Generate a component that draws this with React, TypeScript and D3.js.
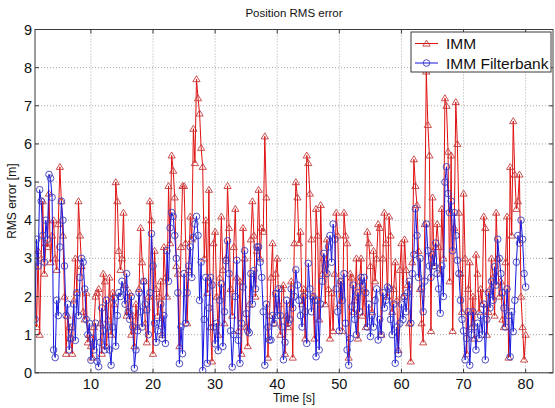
import React from 'react';
import * as d3 from 'd3';

const T0 = 1;
const DT = 0.25;

const immValues: number[] = [
  2.8, 1.2, 3.2, 1.0, 3.0, 4.5, 2.6, 3.4, 3.3, 4.7, 2.9, 3.6, 4.0, 3.0, 2.7, 3.9,
  5.4, 4.5, 3.6, 2.0, 0.5, 1.5, 1.2, 0.9, 0.5, 1.9, 3.0, 2.1, 4.5, 3.6, 2.8, 1.6,
  1.4, 2.1, 0.8, 1.0, 0.7, 0.4, 1.2, 2.0, 2.1, 2.2, 1.3, 0.5, 2.6, 2.4, 0.7, 1.4,
  2.5, 1.0, 2.1, 1.8, 5.0, 4.5, 3.2, 2.7, 3.0, 4.2, 2.3, 1.5, 1.6, 2.1, 1.0, 1.5,
  0.7, 1.8, 1.2, 2.2, 3.8, 2.9, 2.4, 1.3, 0.8, 2.0, 4.5, 4.0, 0.5, 3.2, 2.2, 1.5,
  2.0, 2.4, 1.0, 3.3, 2.5, 2.0, 4.9, 3.4, 5.7, 5.3, 4.6, 2.8, 2.6, 0.7, 3.3, 4.9,
  4.9, 3.4, 1.3, 2.7, 4.1, 3.5, 6.4, 5.5, 7.7, 7.2, 6.8, 5.9, 5.4, 3.0, 4.0, 2.1,
  4.8, 1.2, 0.3, 3.4, 3.7, 2.0, 1.0, 2.5, 4.1, 2.7, 1.3, 3.0, 4.9, 3.8, 2.2, 1.5,
  3.3, 4.3, 2.5, 1.1, 2.4, 0.5, 3.8, 3.0, 1.2, 0.7, 1.8, 3.5, 4.5, 3.6, 2.0, 3.2,
  4.8, 3.0, 3.8, 3.7, 6.2, 4.6, 0.4, 1.5, 2.5, 3.4, 1.3, 2.6, 3.0, 1.8, 1.0, 2.2,
  2.3, 0.5, 1.5, 1.2, 1.8, 2.4, 0.4, 3.4, 5.0, 4.6, 3.4, 3.7, 1.8, 2.2, 0.9, 5.7,
  5.5, 4.7, 3.5, 2.0, 0.9, 4.3, 3.6, 1.4, 4.4, 2.6, 3.0, 1.8, 3.5, 2.2, 0.9, 2.1,
  1.1, 2.6, 4.2, 3.6, 1.8, 2.4, 1.1, 4.2, 3.6, 3.4, 0.4, 2.6, 2.5, 1.6, 1.9, 3.0,
  0.9, 2.4, 3.0, 1.5, 2.2, 1.2, 3.7, 3.4, 2.8, 1.6, 3.2, 2.4, 3.0, 3.9, 3.8, 1.0,
  3.0, 4.2, 3.4, 2.0, 4.1, 3.6, 1.6, 2.2, 2.9, 1.9, 0.6, 2.7, 3.4, 2.0, 3.5, 2.7,
  2.3, 1.3, 0.3, 2.9, 5.6, 4.9, 4.4, 3.2, 2.2, 1.3, 0.8, 3.9, 7.9, 6.5, 5.7, 1.1,
  4.6, 2.8, 3.3, 3.9, 3.3, 2.6, 4.3, 3.0, 7.2, 7.0, 5.8, 2.4, 5.7, 1.1, 3.8, 7.1,
  6.0, 4.2, 2.6, 1.6, 4.7, 3.0, 0.5, 2.2, 2.9, 1.2, 2.0, 0.9, 3.1, 2.6, 1.6, 2.2,
  1.8, 4.1, 3.8, 1.0, 1.6, 2.2, 3.0, 2.5, 1.5, 4.2, 3.0, 2.0, 2.4, 1.4, 1.2, 2.9,
  4.1, 0.4, 5.4, 3.6, 6.6, 5.2, 4.3, 4.5, 5.2, 2.0, 1.2, 0.35, 1.0,
];

const filterbankValues: number[] = [
  1.4, 3.5, 2.8, 4.8, 4.5, 3.6, 2.9, 4.0, 3.5, 5.2, 5.1, 4.6, 0.6, 0.4, 1.9, 1.5,
  3.3, 4.5, 4.0, 2.8, 1.5, 1.8, 0.6, 0.9, 1.2, 1.8, 0.85, 2.1, 1.5, 2.5, 3.0, 2.9,
  2.2, 1.4, 1.0, 1.3, 0.33, 0.9, 0.6, 1.3, 0.3, 0.16, 0.8, 1.7, 1.1, 0.6, 1.9, 1.2,
  0.6, 0.2, 1.2, 1.95, 0.7, 1.5, 2.1, 2.0, 2.4, 2.2, 1.8, 2.6, 1.6, 1.4, 2.0, 1.2,
  0.12, 0.6, 1.1, 2.1, 1.6, 1.2, 2.4, 1.8, 1.65, 1.0, 2.1, 3.65, 2.8, 1.3, 0.8, 1.1,
  1.3, 1.8, 0.9, 1.5, 0.77, 3.2, 2.4, 3.8, 4.2, 4.1, 3.6, 3.0, 2.1, 0.24, 1.2, 0.5,
  2.6, 1.3, 2.1, 2.8, 3.3, 2.5, 3.55, 3.9, 4.1, 3.6, 1.9, 2.9, 0.06, 1.4, 2.5, 0.25,
  1.7, 2.5, 2.3, 1.2, 0.76, 1.3, 0.58, 1.9, 2.33, 0.69, 1.6, 2.94, 3.46, 2.6, 1.1, 0.15,
  1.0, 2.0, 2.95, 0.85, 0.25, 1.3, 2.25, 3.2, 1.55, 1.1, 1.05, 2.6, 1.8, 2.68, 2.2, 3.3,
  3.3, 2.9, 2.5, 1.6, 0.2, 1.8, 1.2, 0.86, 0.86, 1.5, 1.3, 2.08, 1.5, 2.2, 1.5, 1.2,
  0.34, 0.8, 1.9, 1.3, 1.4, 2.2, 1.7, 2.0, 2.7, 2.3, 1.9, 1.5, 1.2, 2.0, 1.6, 0.77,
  2.87, 2.2, 1.6, 2.0, 1.9, 0.42, 1.9, 0.6, 1.8, 2.4, 3.13, 2.8, 2.6, 3.3, 3.6, 2.9,
  3.9, 3.5, 2.2, 1.6, 1.1, 2.4, 1.9, 2.6, 1.3, 0.6, 0.2, 0.9, 1.73, 2.3, 1.4, 1.0,
  2.1, 1.6, 2.5, 2.3, 2.5, 2.1, 1.2, 1.8, 0.95, 1.5, 1.2, 1.9, 2.2, 0.86, 1.4, 1.0,
  2.1, 1.7, 1.9, 2.25, 2.2, 1.4, 1.0, 1.8, 0.25, 1.2, 0.5, 1.3, 1.8, 1.4, 2.0, 1.6,
  2.1, 2.4, 1.3, 2.6, 3.1, 4.3, 3.6, 2.5, 3.0, 2.2, 1.6, 2.4, 3.9, 3.2, 2.8, 2.5,
  3.1, 2.8, 3.4, 2.6, 2.2, 1.56, 2.8, 2.0, 5.0, 5.4, 4.7, 4.2, 4.5, 3.2, 4.2, 3.6,
  2.95, 2.6, 1.9, 1.4, 1.1, 0.34, 0.9, 1.6, 0.2, 1.0, 1.6, 1.2, 0.6, 1.3, 0.9, 1.5,
  1.0, 1.8, 0.34, 1.4, 2.1, 1.7, 2.4, 1.9, 2.78, 2.3, 3.5, 3.0, 2.6, 2.1, 1.7, 1.2,
  2.2, 1.5, 0.42, 1.6, 1.08, 1.9, 2.9, 3.6, 3.4, 4.0, 3.5, 2.6, 2.25,
];

const xTicks = [10, 20, 30, 40, 50, 60, 70, 80];
const yTicks = [0, 1, 2, 3, 4, 5, 6, 7, 8, 9];
const seriesNames = ['IMM', 'IMM Filterbank'];
const titleText = 'Position RMS error';
const xLabel = 'Time [s]';
const yLabel = 'RMS error [m]';

const FONT = "'Liberation Sans', Arial, Helvetica, sans-serif";

export default function App() {
  const W = 555, H = 408;
  const L = 35, R = 553, T = 29.5, B = 372.8;
  const x = d3.scaleLinear().domain([1, 84.4]).range([L, R]);
  const y = d3.scaleLinear().domain([0, 9]).range([B, T]);

  const imm = immValues.map((v, i) => [T0 + i * DT, v] as [number, number]);
  const fb = filterbankValues.map((v, i) => [T0 + i * DT, v] as [number, number]);
  const line = d3.line<[number, number]>().x(d => x(d[0])).y(d => y(d[1]));

  const redLine = '#e01010';
  const redMark = '#c43c3c';
  const blueLine = '#1414e0';
  const blueMark = '#3c3cbc';

  const tri = (cx: number, cy: number) =>
    `M${cx - 3.6},${cy + 2.6}L${cx},${cy - 3.4}L${cx + 3.6},${cy + 2.6}Z`;

  return (
    <svg width={W} height={H} style={{ position: 'absolute', left: 0, top: 0, background: '#fff' }}>
      <rect x={0} y={0} width={W} height={H} fill="#fff" />
      <defs>
        <clipPath id="plotclip">
          <rect x={L} y={T} width={R - L} height={B - T} />
        </clipPath>
      </defs>
      {xTicks.map(t => (
        <line key={'gx' + t} x1={x(t)} x2={x(t)} y1={T} y2={B} stroke="#a8a8a8" strokeWidth={1} strokeDasharray="1,2" />
      ))}
      {yTicks.map(t => (
        <line key={'gy' + t} x1={L} x2={R} y1={y(t)} y2={y(t)} stroke="#a8a8a8" strokeWidth={1} strokeDasharray="1,2" />
      ))}
      <g clipPath="url(#plotclip)">
        <path d={line(imm) || ''} fill="none" stroke={redLine} strokeWidth={1} />
        {imm.map((d, i) => (
          <path key={'r' + i} d={tri(x(d[0]), y(d[1]))} fill="none" stroke={redMark} strokeWidth={0.9} />
        ))}
        <path d={line(fb) || ''} fill="none" stroke={blueLine} strokeWidth={1} />
        {fb.map((d, i) => (
          <circle key={'b' + i} cx={x(d[0])} cy={y(d[1])} r={3.3} fill="none" stroke={blueMark} strokeWidth={0.9} />
        ))}
      </g>
      <rect x={L} y={T} width={R - L} height={B - T} fill="none" stroke="#3a3a3a" strokeWidth={1} />
      {xTicks.map(t => (
        <g key={'tx' + t}>
          <line x1={x(t)} x2={x(t)} y1={B} y2={B - 4} stroke="#3a3a3a" />
          <line x1={x(t)} x2={x(t)} y1={T} y2={T + 4} stroke="#3a3a3a" />
          <text x={x(t)} y={B + 16} textAnchor="middle" fontFamily={FONT} fontSize={14.5} fill="#111">{t}</text>
        </g>
      ))}
      {yTicks.map(t => (
        <g key={'ty' + t}>
          <line x1={L} x2={L + 4} y1={y(t)} y2={y(t)} stroke="#3a3a3a" />
          <line x1={R} x2={R - 4} y1={y(t)} y2={y(t)} stroke="#3a3a3a" />
          <text x={L - 3} y={y(t) + 5} textAnchor="end" fontFamily={FONT} fontSize={14.5} fill="#111">{t}</text>
        </g>
      ))}
      <text x={294} y={17} textAnchor="middle" fontFamily={FONT} fontSize={11.5} fill="#111">{titleText}</text>
      <text x={294} y={402} textAnchor="middle" fontFamily={FONT} fontSize={12} fill="#111">{xLabel}</text>
      <text transform={`translate(16,${(T + B) / 2}) rotate(-90)`} textAnchor="middle" fontFamily={FONT} fontSize={12} fill="#111">{yLabel}</text>
      <g>
        <rect x={411} y={32} width={140} height={40} fill="#fff" stroke="#3a3a3a" strokeWidth={1} />
        <line x1={415} x2={438} y1={43.5} y2={43.5} stroke={redLine} strokeWidth={1} />
        <path d={tri(426.5, 43.5)} fill="none" stroke={redMark} strokeWidth={0.9} />
        <text x={446} y={49} fontFamily={FONT} fontSize={15.5} fill="#111">{seriesNames[0]}</text>
        <line x1={415} x2={438} y1={63} y2={63} stroke={blueLine} strokeWidth={1} />
        <circle cx={426.5} cy={63} r={3.3} fill="none" stroke={blueMark} strokeWidth={0.9} />
        <text x={446} y={68.5} fontFamily={FONT} fontSize={15.5} fill="#111">{seriesNames[1]}</text>
      </g>
    </svg>
  );
}
